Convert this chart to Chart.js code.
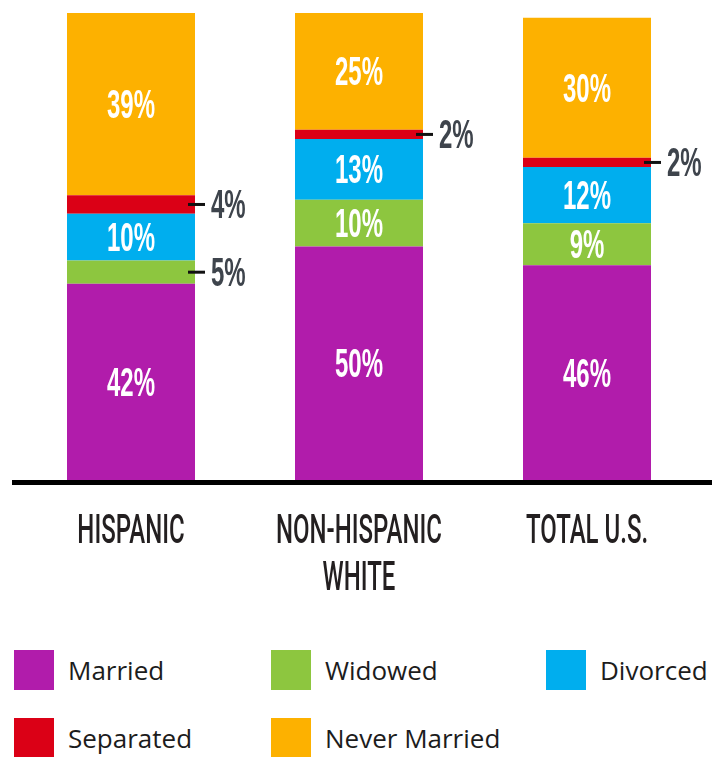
<!DOCTYPE html>
<html>
<head>
<meta charset="utf-8">
<script src="https://cdn.jsdelivr.net/npm/chart.js@4/dist/chart.umd.min.js"></script>
<style>
  body { margin: 0; background: #fff; }
  #wrap { position: relative; width: 721px; height: 757px; overflow: hidden; }
  #chart { position: absolute; left: 0; top: 0; }
  #legend {
    position: absolute; left: 14px; top: 650px;
    display: grid; grid-template-columns: 257px 275px auto;
    row-gap: 28px;
    font-family: "Open Sans", "Noto Sans", sans-serif; font-size: 26px; color: #1c1c1c;
  }
  .item { display: flex; align-items: center; height: 40px; }
  .box { width: 40px; height: 40px; margin-right: 14px; flex: none; }
</style>
</head>
<body>
<div id="wrap">
  <canvas id="chart" width="721" height="620"></canvas>
  <div id="legend"></div>
</div>
<script>
const categories = [['HISPANIC'], ['NON-HISPANIC', 'WHITE'], ['TOTAL U.S.']];
const seriesNames = ['Married', 'Widowed', 'Divorced', 'Separated', 'Never Married'];
const married = [42, 50, 46];
const widowed = [5, 10, 9];
const divorced = [10, 13, 12];
const separated = [4, 2, 2];
const neverMarried = [39, 25, 30];
const seriesColors = ['#B11CAB', '#8DC63F', '#00AEEE', '#DB0016', '#FDB100'];
const yMax = 100;

const seriesValues = [married, widowed, divorced, separated, neverMarried];

// condensed text: a normal face squeezed horizontally
function drawText(ctx, text, x, y, font, sx, color, align) {
    ctx.save();
    ctx.translate(x, y);
    ctx.scale(sx, 1);
    ctx.font = font;
    ctx.fillStyle = color;
    ctx.textAlign = align;
    ctx.textBaseline = 'alphabetic';
    ctx.fillText(text, 0, 0);
    ctx.restore();
}

const VALUE_FONT = 'bold 40px "Liberation Sans", Arial, sans-serif';
const CAT_FONT = '500 40px Roboto, "Liberation Sans", sans-serif';

const labelsPlugin = {
    id: 'labels',
    afterDraw(chart) {
        const ctx = chart.ctx;
        const area = chart.chartArea;
        const xs = chart.scales.x;
        const y0 = chart.scales.y.getPixelForValue(0);

        // thick baseline
        ctx.fillStyle = '#000';
        ctx.fillRect(area.left - 5, y0, area.right - area.left + 16, 5);

        // category labels
        categories.forEach((lines, i) => {
            const cx = xs.getPixelForValue(i);
            lines.forEach((line, j) => {
                drawText(ctx, line, cx, y0 + 63 + j * 47, CAT_FONT, 0.6, '#231F20', 'center');
            });
        });

        // segment labels
        chart.data.datasets.forEach((ds, di) => {
            const meta = chart.getDatasetMeta(di);
            meta.data.forEach((bar, i) => {
                const v = ds.data[i];
                const cy = (bar.y + bar.base) / 2;
                const txt = v + '%';
                if (v > 5) {
                    drawText(ctx, txt, bar.x, cy + 14, VALUE_FONT, 0.6, '#fff', 'center');
                } else {
                    const right = bar.x + bar.width / 2;
                    ctx.fillStyle = '#111';
                    ctx.fillRect(right - 7, cy - 1.5, 17, 3);
                    drawText(ctx, txt, right + 16, cy + 14, VALUE_FONT, 0.6, '#3E444C', 'left');
                }
            });
        });
    }
};

new Chart(document.getElementById('chart'), {
    type: 'bar',
    data: {
        labels: categories,
        datasets: seriesNames.map((name, i) => ({
            label: name,
            data: seriesValues[i],
            backgroundColor: seriesColors[i],
            borderWidth: 0,
            categoryPercentage: 1,
            barPercentage: 0.5614
        }))
    },
    options: {
        responsive: false,
        animation: false,
        layout: { padding: { left: 17, right: 20, top: 13, bottom: 140 } },
        plugins: {
            legend: { display: false },
            tooltip: { enabled: false }
        },
        scales: {
            x: { stacked: true, display: false },
            y: { stacked: true, display: false, min: 0, max: yMax }
        }
    },
    plugins: [labelsPlugin]
});

// legend
const legend = document.getElementById('legend');
seriesNames.forEach((name, i) => {
    const item = document.createElement('div');
    item.className = 'item';
    const box = document.createElement('div');
    box.className = 'box';
    box.style.background = seriesColors[i];
    const label = document.createElement('span');
    label.textContent = name;
    item.appendChild(box);
    item.appendChild(label);
    legend.appendChild(item);
});
</script>
</body>
</html>
